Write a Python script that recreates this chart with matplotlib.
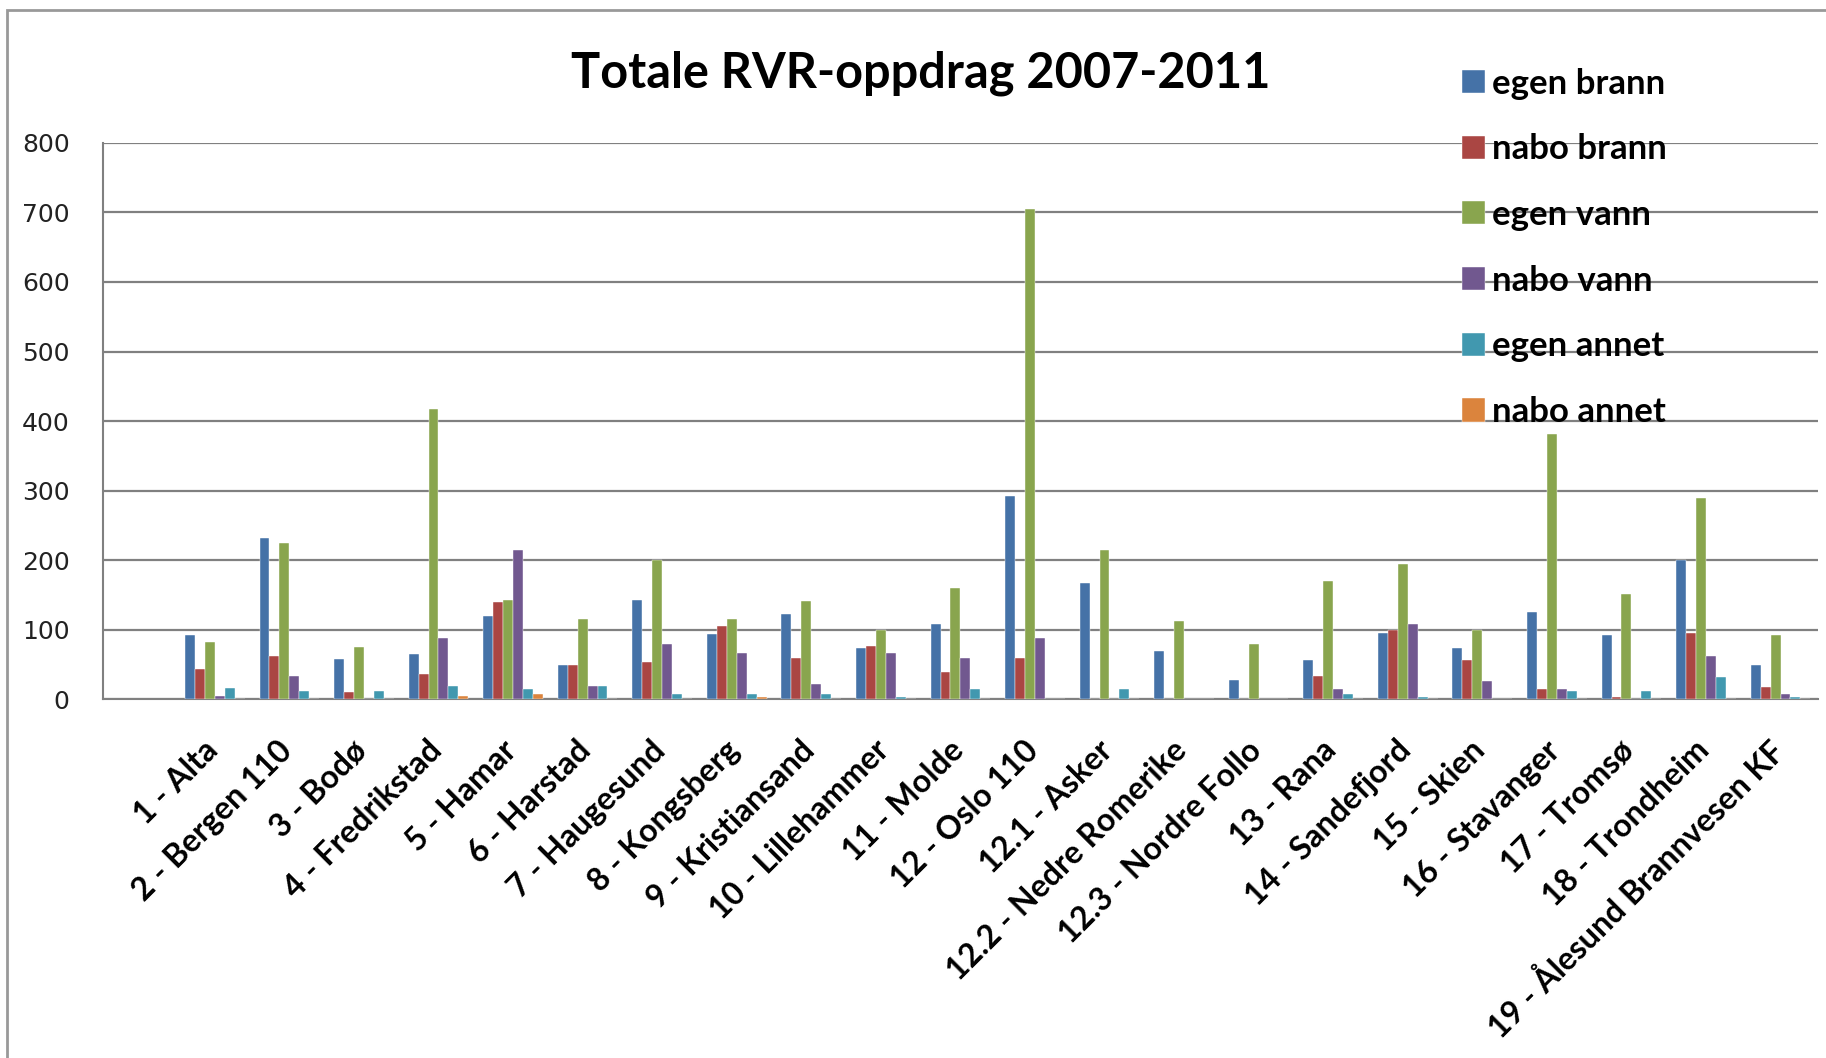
import numpy as np
import matplotlib
matplotlib.use('Agg')
import matplotlib.pyplot as plt
from matplotlib.patches import Rectangle
from matplotlib.transforms import ScaledTranslation

# kategorier (første kategori er tom i originalen)
stasjoner = ['1 - Alta', '2 - Bergen 110', '3 - Bodø', '4 - Fredrikstad', '5 - Hamar',
             '6 - Harstad', '7 - Haugesund', '8 - Kongsberg', '9 - Kristiansand',
             '10 - Lillehammer', '11 - Molde', '12 - Oslo 110', '12.1 - Asker',
             '12.2 - Nedre Romerike', '12.3 - Nordre Follo', '13 - Rana', '14 - Sandefjord',
             '15 - Skien', '16 - Stavanger', '17 - Tromsø', '18 - Trondheim',
             '19 - Ålesund Brannvesen KF']

egen_brann = [92, 232, 58, 65, 120, 50, 143, 94, 122, 74, 108, 293, 167, 70, 28, 57, 95, 74, 125, 92, 200, 50]
nabo_brann = [44, 62, 10, 37, 140, 50, 53, 105, 60, 77, 40, 60, 0, 0, 0, 33, 100, 57, 15, 4, 95, 18]
egen_vann = [82, 225, 75, 417, 143, 115, 200, 115, 142, 100, 160, 705, 215, 112, 80, 170, 195, 100, 382, 152, 290, 92]
nabo_vann = [5, 33, 0, 88, 215, 19, 80, 67, 22, 67, 60, 88, 0, 0, 0, 15, 108, 27, 15, 0, 63, 8]
egen_annet = [17, 12, 12, 19, 15, 19, 8, 8, 8, 4, 15, 0, 15, 0, 0, 8, 4, 0, 12, 12, 32, 4]
nabo_annet = [0, 0, 0, 5, 8, 0, 0, 4, 0, 0, 0, 0, 0, 0, 0, 0, 0, 0, 0, 0, 0, 0]

serier = ['egen brann', 'nabo brann', 'egen vann', 'nabo vann', 'egen annet', 'nabo annet']
farger = ['#4572A7', '#AA4643', '#89A54E', '#71588F', '#4198AF', '#DB843D']
data = [egen_brann, nabo_brann, egen_vann, nabo_vann, egen_annet, nabo_annet]

fig = plt.figure(figsize=(18.26, 10.58), dpi=100)
ax = fig.add_axes([0.0564, 0.339, 0.9391, 0.526])

x = np.arange(1, len(stasjoner) + 1)
w = 0.8 / 6
for k, (navn, verdier, farge) in enumerate(zip(serier, data, farger)):
    ax.bar(x + (k - 2.5) * w, verdier, width=w, color=farge, label=navn,
           edgecolor='white', linewidth=0.3, zorder=3)

ax.set_xlim(-0.5, len(stasjoner) + 0.5)
ax.set_ylim(0, 800)
ax.set_yticks(range(0, 801, 100))
ax.yaxis.grid(True, color='#808080', linewidth=1.6, zorder=0)
ax.set_axisbelow(True)

ax.set_xticks(x)
ax.set_xticklabels(stasjoner, rotation=45, ha='right', va='top', rotation_mode='anchor',
                   fontfamily='Lato', fontweight='bold', fontsize=23)
ax.tick_params(axis='x', length=0, pad=26)
ax.tick_params(axis='y', length=0, pad=24, labelsize=18, labelcolor='#222222')

# flytt etikettene litt mot venstre
forskyv = ScaledTranslation(-0.12, 0, fig.dpi_scale_trans)
for lab in ax.get_xticklabels():
    lab.set_transform(lab.get_transform() + forskyv)

for s in ['top', 'right']:
    ax.spines[s].set_visible(False)
ax.spines['left'].set_color('#808080')
ax.spines['bottom'].set_color('#808080')
ax.spines['left'].set_linewidth(1.5)
ax.spines['bottom'].set_linewidth(1.5)

fig.text(0.504, 0.931, 'Totale RVR-oppdrag 2007-2011', ha='center', va='center',
         fontfamily='Lato', fontweight='bold', fontsize=35)

leg = fig.legend(loc='upper left', bbox_to_anchor=(0.8007, 0.936), frameon=False,
                 prop={'family': 'Lato', 'weight': 'bold', 'size': 25},
                 handlelength=0.65, handleheight=0.65, handletextpad=0.2,
                 labelspacing=0.97, borderpad=0, borderaxespad=0)

# ramme rundt hele diagrammet
fig.patches.append(Rectangle((7 / 1826, -1), 2, 1 + (1 - 10 / 1058), transform=fig.transFigure,
                             fill=False, edgecolor='#999999', linewidth=2))

fig.savefig('out.png', dpi=100)
